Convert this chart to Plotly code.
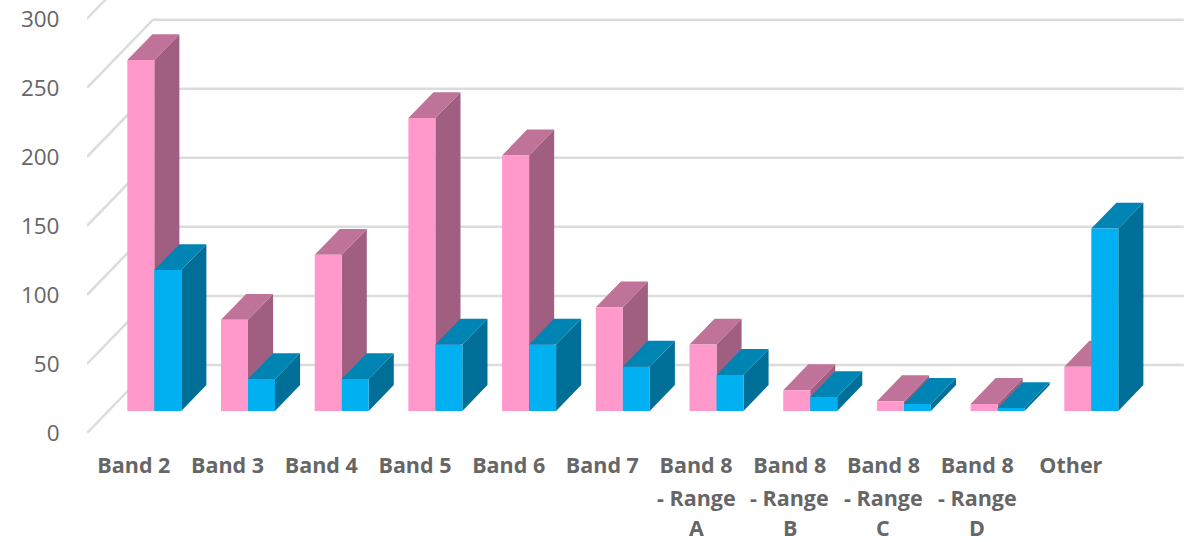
import plotly.graph_objects as go

categories = ["Band 2", "Band 3", "Band 4", "Band 5", "Band 6", "Band 7",
              "Band 8", "Band 8", "Band 8", "Band 8", "Other"]
extra_label_lines = {6: ["- Range", "A"], 7: ["- Range", "B"], 8: ["- Range", "C"], 9: ["- Range", "D"]}
pink_values = [254, 66, 113, 212, 185, 75, 48, 15, 7, 5, 32]
blue_values = [102, 23, 23, 48, 48, 32, 26, 10, 5, 2, 132]
y_ticks = [0, 50, 100, 150, 200, 250, 300]

WIDTH, HEIGHT = 1191, 542
PX_PER_CATEGORY = 93.7
PX_PER_UNIT = 1.38
LEFT, BOTTOM = 87, 109.3

# Oblique projection: depth 0 is the front of the floor, depth 1 the back wall.
DEPTH_X = 66 / PX_PER_CATEGORY
DEPTH_Y = 68 / PX_PER_UNIT
BAR_FRONT, BAR_BACK = 0.325, 0.705
BAR_WIDTH = 27 / PX_PER_CATEGORY
BAR_NUDGE = -1 / PX_PER_CATEGORY

x_start = -0.5
x_end = x_start + (WIDTH - LEFT) / PX_PER_CATEGORY
y_end = (HEIGHT - BOTTOM) / PX_PER_UNIT


def project(x, value, depth):
    return x + depth * DEPTH_X, value + depth * DEPTH_Y


def polygons(faces):
    xs, ys = [], []
    for face in faces:
        for x, value, depth in face + [face[0]]:
            px, py = project(x, value, depth)
            xs.append(px)
            ys.append(py)
        xs.append(None)
        ys.append(None)
    return xs, ys


def add_faces(fig, faces, color):
    xs, ys = polygons(faces)
    fig.add_trace(go.Scatter(x=xs, y=ys, mode="lines", fill="toself", fillcolor=color,
                             line=dict(width=0, color=color), hoverinfo="skip", showlegend=False))


def add_series(fig, values, offset, front, top, side):
    x0s = [i + BAR_NUDGE + offset * BAR_WIDTH for i in range(len(values))]
    f, b = BAR_FRONT, BAR_BACK
    side_faces = [[(x + BAR_WIDTH, 0, f), (x + BAR_WIDTH, 0, b), (x + BAR_WIDTH, v, b), (x + BAR_WIDTH, v, f)]
                  for x, v in zip(x0s, values)]
    top_faces = [[(x, v, f), (x + BAR_WIDTH, v, f), (x + BAR_WIDTH, v, b), (x, v, b)]
                 for x, v in zip(x0s, values)]
    front_faces = [[(x, 0, f), (x + BAR_WIDTH, 0, f), (x + BAR_WIDTH, v, f), (x, v, f)]
                   for x, v in zip(x0s, values)]
    add_faces(fig, side_faces, side)
    add_faces(fig, top_faces, top)
    add_faces(fig, front_faces, front)


fig = go.Figure()

# Gridlines: a slanted run across the side wall, then straight along the back wall.
grid_x, grid_y = [], []
for tick in y_ticks:
    for point in [(x_start, tick, 0), (x_start, tick, 1), (x_start + 11, tick, 1)]:
        px, py = project(*point)
        grid_x.append(px)
        grid_y.append(py)
    grid_x.append(None)
    grid_y.append(None)
fig.add_trace(go.Scatter(x=grid_x, y=grid_y, mode="lines", line=dict(color="#DCDCDC", width=2.5),
                         hoverinfo="skip", showlegend=False))

add_series(fig, pink_values, -1, "#FF99CC", "#BF7399", "#A05F80")
add_series(fig, blue_values, 0, "#00B0F0", "#0084B4", "#006F98")

label_font = dict(family="Open Sans, sans-serif", size=21.5, color="#666666")
line_centres = [497, 527]
annotations = []
for i, lines in extra_label_lines.items():
    for line, centre in zip(lines, line_centres):
        annotations.append(dict(x=i, xref="x", xanchor="center", yref="paper", yanchor="middle",
                                y=-(centre - (HEIGHT - BOTTOM)) / (HEIGHT - BOTTOM),
                                text="<b>%s</b>" % line, showarrow=False, font=label_font))

fig.update_layout(
    width=WIDTH, height=HEIGHT, autosize=False,
    margin=dict(l=LEFT, r=0, t=0, b=BOTTOM),
    paper_bgcolor="white", plot_bgcolor="white", showlegend=False,
    annotations=annotations,
    xaxis=dict(range=[x_start, x_end], tickmode="array", tickvals=list(range(len(categories))),
               ticktext=["<b>%s</b>" % c for c in categories], tickfont=label_font,
               tickangle=0, showgrid=False, zeroline=False, showline=False,
               ticks="outside", ticklen=13, tickcolor="rgba(0,0,0,0)"),
    yaxis=dict(range=[0, y_end], tickmode="array", tickvals=y_ticks,
               tickfont=dict(family="Open Sans, sans-serif", size=22.5, color="#666666"),
               showgrid=False, zeroline=False, showline=False,
               ticks="outside", ticklen=22, tickcolor="rgba(0,0,0,0)"),
)

fig.write_html("out.html", config=dict(displayModeBar=False))
